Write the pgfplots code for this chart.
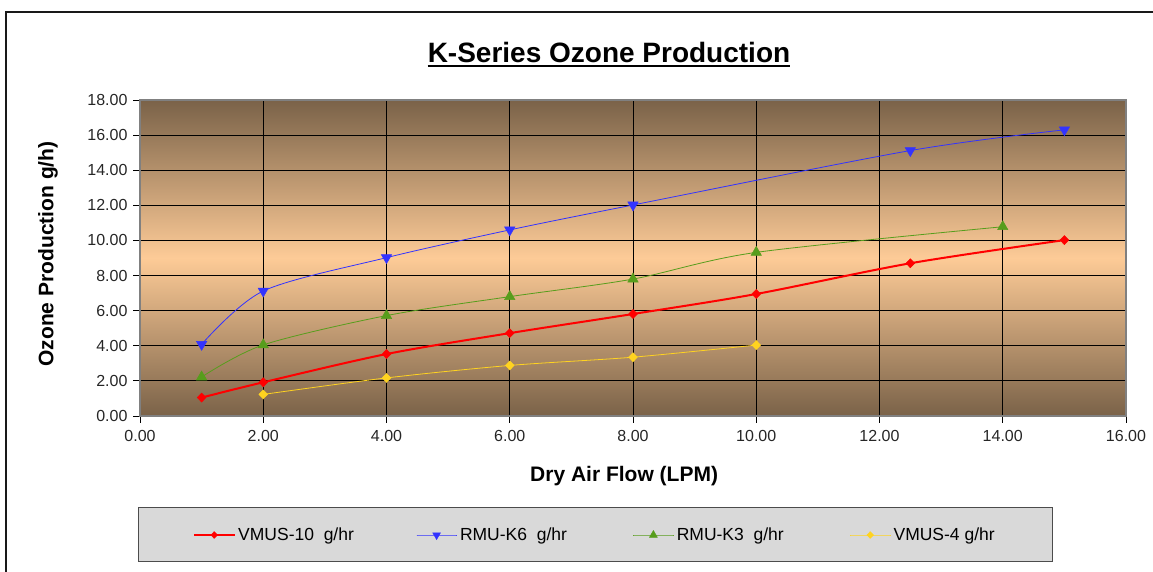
\documentclass[border=0pt]{standalone}
\usepackage{fontspec}
\setmainfont{Liberation Sans}
\usepackage{pgfplots}
\pgfplotsset{compat=1.18}

\definecolor{brTop}{RGB}{122,98,72}
\definecolor{brMid}{RGB}{253,203,151}
\definecolor{lgray}{RGB}{217,217,217}
\definecolor{cRed}{RGB}{255,0,0}
\definecolor{cBlue}{RGB}{51,51,255}
\definecolor{cGreen}{RGB}{87,157,28}
\definecolor{cYellow}{RGB}{255,211,32}

\begin{document}
\begin{tikzpicture}[x=1pt,y=1pt]
\useasboundingbox (0pt,0pt) rectangle (1153pt,572pt);
\draw[line width=1.2pt, black!90] (6pt,-5pt) -- (6pt,560pt) -- (1160pt,560pt);
\node[font=\fontsize{28}{32}\selectfont\bfseries, inner sep=0pt, anchor=base] (T) at (609pt,509pt) {K-Series Ozone Production};
\draw[line width=2pt] ([yshift=-3.5pt]T.base west) -- ([yshift=-3.5pt]T.base east);
\draw[fill=lgray, draw=black!70, line width=1pt] (138pt,10pt) rectangle (1052pt,64pt);
\begin{axis}[
 at={(140pt,156pt)}, anchor=south west,
 scale only axis, width=986pt, height=316pt,
 xmin=0, xmax=16, ymin=0, ymax=18,
 xtick={0,2,...,16}, ytick={0,2,...,18},
 xtick pos=bottom, ytick pos=left,
 grid=major, major grid style={black, line width=0.8pt},
 axis line style={draw=gray, line width=1.5pt},
 tick align=outside, major tick length=7pt, tick style={black, line width=0.8pt},
 tick label style={font=\fontsize{16}{19}\selectfont, text=black!85},
 xticklabel style={yshift=-4pt},
 yticklabel style={xshift=-2pt},
 /pgf/number format/fixed, /pgf/number format/fixed zerofill,
 /pgf/number format/precision=2, /pgf/number format/assume math mode=true,
 axis background/.style={shade, top color=brTop, bottom color=brTop, middle color=brMid},
 xlabel={Dry Air Flow (LPM)}, ylabel={Ozone Production g/h)},
 label style={font=\fontsize{21}{25}\selectfont\bfseries},
 xlabel style={at={(axis description cs:0.491,-0.19)}, anchor=center},
 ylabel style={at={(axis description cs:-0.0933,0.5127)}, anchor=center},
 legend columns=4,
 legend style={at={(axis description cs:0.05375,-0.3766)}, anchor=west, draw=none, fill=none,
   inner sep=0pt, column sep=0pt, font=\fontsize{17.5}{20}\selectfont, nodes={inner sep=3pt}},
 legend image code/.code={\draw[mark repeat=2, mark phase=2, #1, every mark/.append style={scale=0.75}] plot coordinates {(0pt,0pt) (20pt,0pt) (40pt,0pt)};},
]
\addplot[cRed, line width=2pt, smooth, mark=diamond*, mark size=4.5pt, mark options={solid, line width=0.5pt, xscale=1.3}]
 coordinates {(1,1.05) (2,1.92) (4,3.53) (6,4.72) (8,5.81) (10,6.95) (12.5,8.70) (15,10.02)};
\addlegendentry{\makebox[175pt][l]{VMUS-10\ \ g/hr}}
\addplot[cBlue, line width=0.8pt, smooth, mark=triangle*, mark size=6pt, mark options={solid, line width=0.5pt, rotate=180}]
 coordinates {(1,4.08) (2,7.12) (4,9.02) (6,10.6) (8,12.02) (12.5,15.12) (15,16.3)};
\addlegendentry{\makebox[170pt][l]{RMU-K6\ \ g/hr}}
\addplot[cGreen, line width=0.8pt, smooth, mark=triangle*, mark size=6pt, mark options={solid, line width=0.5pt}]
 coordinates {(1,2.22) (2,4.05) (4,5.72) (6,6.8) (8,7.8) (10,9.32) (14,10.78)};
\addlegendentry{\makebox[170pt][l]{RMU-K3\ \ g/hr}}
\addplot[cYellow, line width=0.8pt, smooth, mark=diamond*, mark size=4.5pt, mark options={solid, line width=0.5pt, xscale=1.3}]
 coordinates {(2,1.23) (4,2.17) (6,2.88) (8,3.35) (10,4.04)};
\addlegendentry{\makebox[100pt][l]{VMUS-4 g/hr}}
\end{axis}
\end{tikzpicture}
\end{document}
